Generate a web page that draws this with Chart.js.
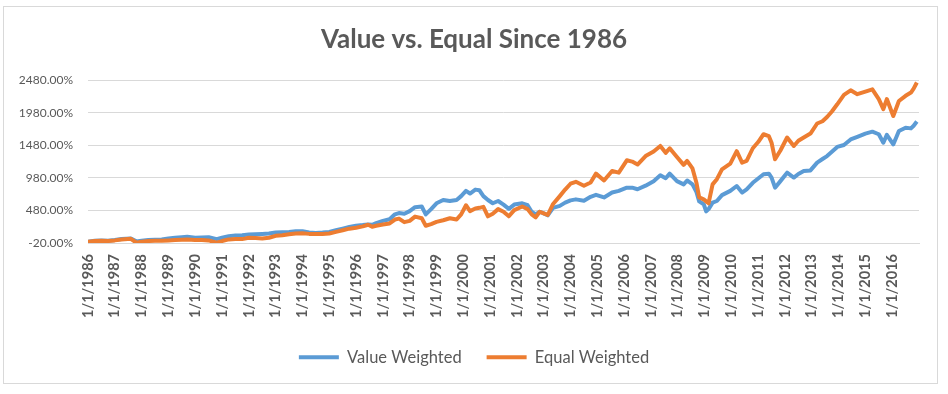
<!DOCTYPE html>
<html>
<head>
<meta charset="utf-8">
<script src="https://cdn.jsdelivr.net/npm/chart.js@4.4.1/dist/chart.umd.min.js"></script>
<style>
  html, body { margin: 0; padding: 0; background: #fff; }
  #wrap { width: 948px; height: 394px; }
</style>
</head>
<body>
<div id="wrap"><canvas id="mychart" width="948" height="394"></canvas></div>
<script>
// sample dates (decimal years)
var dates = [
  1986.00, 1986.25, 1986.50, 1986.75, 1987.00, 1987.25, 1987.60, 1987.80, 1988.00, 1988.25,
  1988.50, 1988.75, 1989.00, 1989.25, 1989.50, 1989.70, 1990.00, 1990.25, 1990.50, 1990.80,
  1991.00, 1991.25, 1991.50, 1991.75, 1992.00, 1992.25, 1992.50, 1992.75, 1993.00, 1993.25,
  1993.50, 1993.75, 1994.00, 1994.25, 1994.50, 1994.75, 1995.00, 1995.25, 1995.50, 1995.75,
  1996.00, 1996.25, 1996.45, 1996.60, 1996.75, 1997.00, 1997.25, 1997.45, 1997.60, 1997.80,
  1998.00, 1998.20, 1998.45, 1998.60, 1998.80, 1999.00, 1999.25, 1999.50, 1999.75, 1999.92,
  2000.10, 2000.25, 2000.45, 2000.60, 2000.75, 2000.92, 2001.10, 2001.30, 2001.50, 2001.70,
  2001.90, 2002.20, 2002.40, 2002.55, 2002.70, 2002.85, 2003.00, 2003.15, 2003.35, 2003.60,
  2003.80, 2004.00, 2004.20, 2004.50, 2004.75, 2004.95, 2005.25, 2005.55, 2005.80, 2006.10,
  2006.30, 2006.50, 2006.80, 2007.10, 2007.35, 2007.55, 2007.70, 2007.97, 2008.22, 2008.35,
  2008.55, 2008.70, 2008.80, 2008.97, 2009.06, 2009.15, 2009.30, 2009.46, 2009.65, 2009.96,
  2010.20, 2010.40, 2010.57, 2010.80, 2011.00, 2011.20, 2011.40, 2011.50, 2011.63, 2011.83,
  2012.08, 2012.33, 2012.50, 2012.70, 2012.95, 2013.20, 2013.40, 2013.57, 2013.75, 2013.95,
  2014.20, 2014.45, 2014.70, 2015.00, 2015.26, 2015.50, 2015.67, 2015.80, 2016.04, 2016.15,
  2016.25, 2016.50, 2016.70, 2016.80, 2016.92
];

// cumulative return, %
var valueWeighted = [
  0, 15, 20, 15, 25, 40, 50, 5, 15, 25,
  30, 35, 50, 60, 70, 75, 60, 65, 70, 40,
  60, 85, 95, 100, 110, 115, 120, 125, 140, 145,
  150, 160, 160, 140, 135, 140, 150, 175, 200, 225,
  245, 255, 265, 260, 285, 320, 345, 420, 440, 430,
  470, 530, 540, 420, 500, 590, 640, 625, 640, 700,
  780, 740, 800, 790, 700, 640, 590, 625, 570, 505,
  570, 590, 560, 460, 420, 460, 435, 405, 520, 550,
  600, 635, 650, 630, 690, 720, 680, 755, 780, 830,
  830, 805, 860, 930, 1020, 975, 1045, 930, 880, 940,
  880, 760, 620, 575, 465, 500, 600, 625, 715, 780,
  855, 755, 805, 905, 970, 1035, 1045, 985, 830, 930,
  1060, 985, 1040, 1085, 1095, 1215, 1270, 1315, 1380, 1455,
  1485, 1570, 1610, 1660, 1690, 1650, 1520, 1640, 1495, 1600,
  1700, 1750, 1740, 1780, 1845
];

var equalWeighted = [
  0, 10, 15, 10, 20, 35, 45, -15, 0, 10,
  15, 15, 20, 25, 30, 35, 25, 25, 20, -15,
  10, 35, 40, 40, 60, 55, 50, 60, 90, 100,
  115, 125, 130, 120, 120, 120, 125, 150, 175, 200,
  215, 235, 260, 230, 245, 265, 280, 340, 355, 300,
  320, 385, 360, 245, 270, 305, 330, 360, 340, 420,
  560, 470, 510, 520, 535, 390, 430, 500, 460, 390,
  485, 540, 500, 420, 375, 460, 435, 410, 580, 700,
  800, 890, 920, 860, 910, 1045, 940, 1085, 1060, 1250,
  1230, 1185, 1315, 1385, 1470, 1365, 1435, 1300, 1180, 1240,
  1125, 900, 680, 650, 620, 590, 880, 960, 1110, 1200,
  1390, 1215, 1240, 1435, 1530, 1650, 1620, 1520, 1265, 1400,
  1600, 1470, 1550, 1600, 1660, 1815, 1850, 1915, 2000, 2110,
  2255, 2325, 2265, 2305, 2340, 2190, 2035, 2190, 1930, 2050,
  2160, 2240, 2290, 2350, 2445
];

var seriesNames = ['Value Weighted', 'Equal Weighted'];
var yTicks = [-20, 480, 980, 1480, 1980, 2480];
var xTickYears = [1986, 1987, 1988, 1989, 1990, 1991, 1992, 1993, 1994, 1995, 1996,
  1997, 1998, 1999, 2000, 2001, 2002, 2003, 2004, 2005, 2006, 2007, 2008, 2009,
  2010, 2011, 2012, 2013, 2014, 2015, 2016];

function pts(arr) {
  return arr.map(function (v, i) { return { x: dates[i], y: v }; });
}

var textColor = '#595959';
var gridColor = '#d9d9d9';

var frame = {
  id: 'frame',
  beforeDraw: function (chart) {
    var c = chart.ctx;
    c.save();
    c.fillStyle = '#fff';
    c.fillRect(0, 0, chart.width, chart.height);
    c.strokeStyle = gridColor;
    c.lineWidth = 1;
    c.strokeRect(3.5, 6.5, 934, 377);
    c.restore();
  }
};

var ctx = document.getElementById('mychart');
var myChart = new Chart(ctx, {
  type: 'line',
  data: {
    datasets: [{
      label: seriesNames[0],
      data: pts(valueWeighted),
      borderColor: '#5B9BD5',
      backgroundColor: '#5B9BD5',
      borderWidth: 4,
      borderJoinStyle: 'round',
      pointRadius: 0,
      order: 1
    }, {
      label: seriesNames[1],
      data: pts(equalWeighted),
      borderColor: '#ED7D31',
      backgroundColor: '#ED7D31',
      borderWidth: 4,
      borderJoinStyle: 'round',
      pointRadius: 0,
      order: 0
    }]
  },
  plugins: [frame],
  options: {
    responsive: false,
    animation: false,
    layout: { padding: { left: 0, right: 0, top: 0, bottom: 18.5 } },
    plugins: {
      title: {
        display: true,
        text: 'Value vs. Equal Since 1986',
        color: textColor,
        font: { family: 'Lato', size: 26, weight: 'bold' },
        padding: { top: 24, bottom: 25 }
      },
      legend: {
        display: true,
        position: 'bottom',
        labels: {
          color: textColor,
          font: { family: 'Lato', size: 16.5 },
          boxWidth: 40,
          boxHeight: 4,
          padding: 25,
          sort: function (a, b) { return a.datasetIndex - b.datasetIndex; },
          generateLabels: function (chart) {
            var items = Chart.defaults.plugins.legend.labels.generateLabels(chart);
            items.forEach(function (it) { it.lineWidth = 0; });
            return items;
          }
        }
      },
      tooltip: { enabled: false }
    },
    scales: {
      x: {
        type: 'linear',
        min: 1986,
        max: 2017,
        afterBuildTicks: function (scale) {
          scale.ticks = xTickYears.map(function (y) { return { value: y }; });
        },
        afterFit: function (scale) { scale.height = 81; },
        grid: { display: false, drawTicks: false },
        border: { color: gridColor },
        ticks: {
          autoSkip: false,
          minRotation: 90,
          maxRotation: 90,
          padding: 11,
          color: textColor,
          font: { family: 'Lato', size: 14.5, weight: 'bold' },
          callback: function (v) { return '1/1/' + v; }
        }
      },
      y: {
        min: -20,
        max: 2480,
        afterBuildTicks: function (scale) {
          scale.ticks = yTicks.map(function (v) { return { value: v }; });
        },
        afterFit: function (scale) { scale.width = 88; },
        grid: { color: gridColor, drawTicks: false },
        border: { display: false },
        ticks: {
          padding: 15,
          color: textColor,
          font: { family: 'Lato', size: 12 },
          callback: function (v) { return v.toFixed(2) + '%'; }
        }
      },
      // empty right-hand gutter so the plot ends where the original does
      gutter: {
        position: 'right',
        afterFit: function (scale) { scale.width = 29; },
        grid: { display: false },
        border: { display: false },
        ticks: { display: false }
      }
    }
  }
});
</script>
</body>
</html>
